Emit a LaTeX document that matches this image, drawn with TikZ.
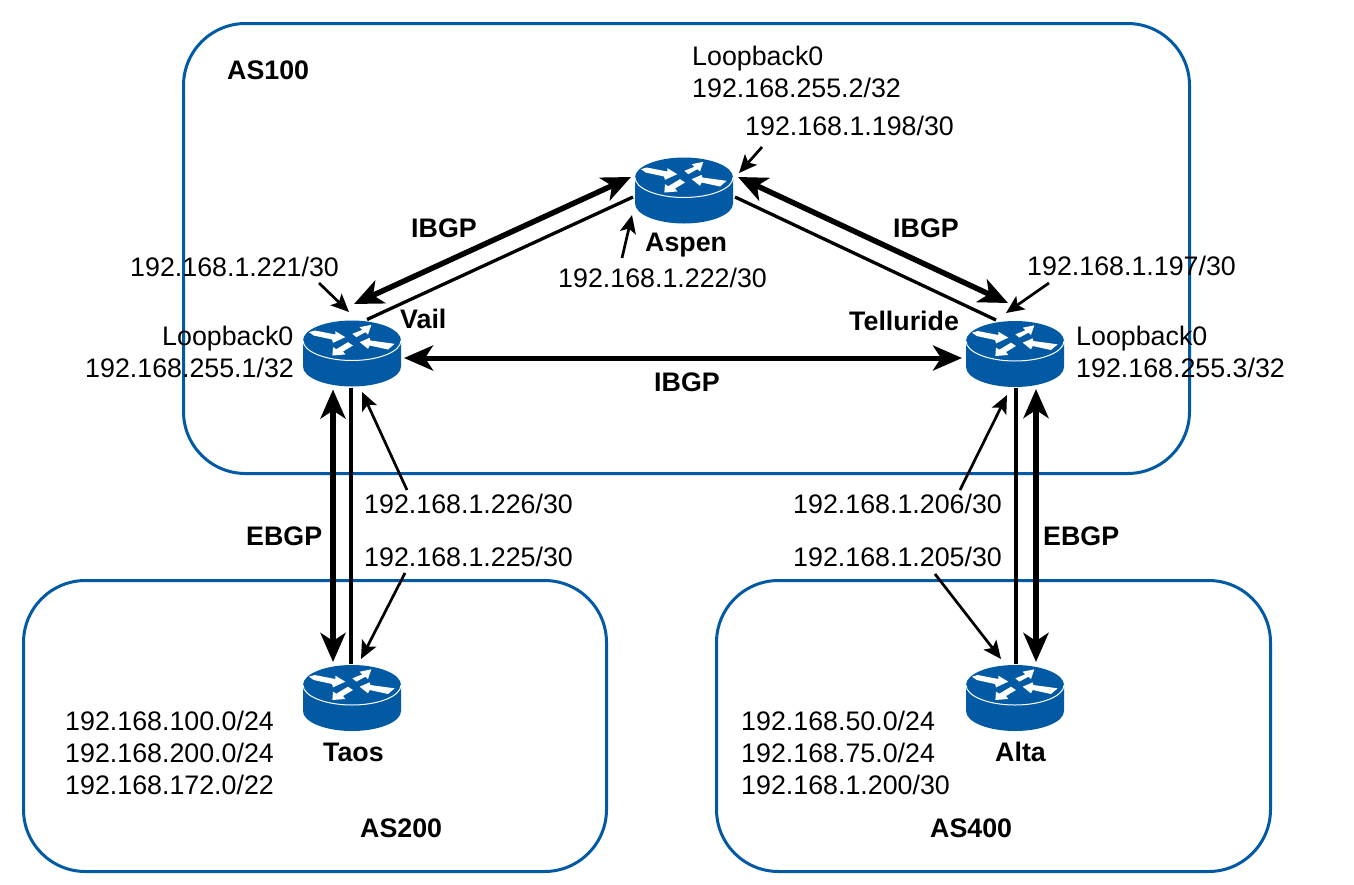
\documentclass[tikz,border=0pt]{standalone}
\usepackage{fontspec}
\setmainfont{Liberation Sans}
\usetikzlibrary{arrows.meta}
\definecolor{ciscoblue}{RGB}{2,90,165}
\tikzset{
  lbl/.style={inner sep=0pt,anchor=south west,text height=19.5pt,text depth=0pt,font=\fontsize{26.8}{30}\selectfont},
  blbl/.style={lbl,font=\fontsize{26.8}{30}\selectfont\bfseries},
  asframe/.style={draw=ciscoblue,line width=3pt,rounded corners=62pt},
  routernode/.style={inner sep=0pt,minimum width=99pt,minimum height=66pt,rectangle},
  link/.style={line width=3.3pt},
  bgp/.style={line width=5.5pt,{Stealth[length=29pt,width=25pt,inset=8pt]}-{Stealth[length=29pt,width=25pt,inset=8pt]}},
  bgpflat/.style={line width=5pt,{Stealth[length=29pt,width=25pt,inset=8pt]}-{Stealth[length=29pt,width=25pt,inset=8pt]}},
  leader/.style={line width=2.7pt,-{Stealth[length=18pt,width=16pt,inset=4pt]}},
}
\newcommand{\routerat}[3]{%
  \node[routernode] (#1) at (#2,#3) {};
  \begin{scope}[shift={(#2,#3)}]
    \fill[ciscoblue] (-49,-13) .. controls (-49,-24) and (-27,-33) .. (0,-33)
      .. controls (27,-33) and (49,-24) .. (49,-13) -- (49,13)
      .. controls (49,24) and (27,33) .. (0,33)
      .. controls (-27,33) and (-49,24) .. (-49,13) -- cycle;
    \draw[white,line width=1pt] (-49,-13) .. controls (-49,-2) and (-27,7) .. (0,7)
      .. controls (27,7) and (49,-2) .. (49,-13);
    \begin{scope}[shift={(0,-13)},scale=0.3333,white]
      \fill (-129,-25) -- (-112,-30) -- (-50,-18) -- (-50,-28) -- (-20,-10) -- (-57,7) -- (-60,-3) -- (-115,-15) -- cycle;
      \fill (58,-47) -- (48,-18) -- (40,-25) -- (13,-10) -- (1,-20) -- (31,-32) -- (23,-40) -- cycle;
      \fill (23,5) -- (53,-8) -- (55,0) -- (128,10) -- (108,27) -- (53,15) -- (48,25) -- cycle;
      \fill (-59,45) -- (-57,20) -- (-47,26) -- (-12,5) -- (3,15) -- (-27,33) -- (-20,42) -- cycle;
    \end{scope}
  \end{scope}}
\begin{document}
\begin{tikzpicture}[x=1pt,y=-1pt]
\useasboundingbox (0,0) rectangle (1354,884);
\fill[white] (0,0) rectangle (1354,884);
% AS frames
\node[asframe,minimum width=1006pt,minimum height=450pt,anchor=north west,inner sep=0pt] (as100) at (182,22) {};
\node[asframe,minimum width=583pt,minimum height=291pt,anchor=north west,inner sep=0pt] (as200) at (22,579) {};
\node[asframe,minimum width=554pt,minimum height=291pt,anchor=north west,inner sep=0pt] (as400) at (715,579) {};
% routers
\routerat{vail}{352}{353.5}
\routerat{aspen}{684}{190.5}
\routerat{telluride}{1015}{354}
\routerat{taos}{352}{698}
\routerat{alta}{1015}{698}
% labels
\node[blbl] (las100) at (227,80) {AS100};
\node[blbl] (las200) at (360,838) {AS200};
\node[blbl] (las400) at (930,838) {AS400};
\node[lbl] (loa) at (692,66) {Loopback0};
\node[lbl] (loaip) at (692,98) {192.168.255.2/32};
\node[lbl] (lov) at (162,346) {Loopback0};
\node[lbl] (lovip) at (85,378) {192.168.255.1/32};
\node[lbl] (lot) at (1076,346) {Loopback0};
\node[lbl] (lotip) at (1076,378) {192.168.255.3/32};
\node[lbl] (a198) at (745,136) {192.168.1.198/30};
\node[lbl] (a222) at (558,288) {192.168.1.222/30};
\node[lbl] (a221) at (130,277) {192.168.1.221/30};
\node[lbl] (a197) at (1027,276) {192.168.1.197/30};
\node[lbl] (a226) at (364,514) {192.168.1.226/30};
\node[lbl] (a225) at (364,567) {192.168.1.225/30};
\node[lbl] (a206) at (793,514) {192.168.1.206/30};
\node[lbl] (a205) at (793,567) {192.168.1.205/30};
\node[blbl] (nasp) at (645,252) {Aspen};
\node[blbl] (nvail) at (400,329) {Vail};
\node[blbl] (ntel) at (849,331) {Telluride};
\node[blbl] (ntaos) at (323,762) {Taos};
\node[blbl] (nalta) at (995,762) {Alta};
\node[blbl] (ib1) at (411,238) {IBGP};
\node[blbl] (ib2) at (893,238) {IBGP};
\node[blbl] (ib3) at (654,392) {IBGP};
\node[blbl] (eb1) at (246,546) {EBGP};
\node[blbl] (eb2) at (1043,546) {EBGP};
\node[lbl] (n1) at (65,731) {192.168.100.0/24};
\node[lbl] (n2) at (65,763) {192.168.200.0/24};
\node[lbl] (n3) at (65,795) {192.168.172.0/22};
\node[lbl] (n4) at (741,731) {192.168.50.0/24};
\node[lbl] (n5) at (741,763) {192.168.75.0/24};
\node[lbl] (n6) at (741,795) {192.168.1.200/30};
% physical links
\draw[link] ([shift={(15,-34)}]vail.center) -- ([shift={(-51,6.5)}]aspen.center);
\draw[link] ([shift={(51,6.5)}]aspen.center) -- ([shift={(-19,-34)}]telluride.center);
\draw[link] ([shift={(-1,34)}]vail.center) -- ([shift={(-1,-34)}]taos.center);
\draw[link] ([shift={(1,34)}]telluride.center) -- ([shift={(1,-34)}]alta.center);
% BGP sessions
\draw[bgp] ([shift={(2,-49.5)}]vail.center) -- ([shift={(-53,-13.5)}]aspen.center);
\draw[bgp] ([shift={(54,-13.5)}]aspen.center) -- ([shift={(-7,-51)}]telluride.center);
\draw[bgpflat] ([shift={(52,4.5)}]vail.center) -- ([shift={(-53,4)}]telluride.center);
\draw[bgp] ([shift={(-19,36)}]vail.center) -- ([shift={(-19,-36)}]taos.center);
\draw[bgp] ([shift={(21,35)}]telluride.center) -- ([shift={(21,-36)}]alta.center);
% leaders
\draw[leader] ([shift={(189,6)}]a221.south west) -- ([shift={(-3,-41.5)}]vail.center);
\draw[leader] ([shift={(17,11)}]a198.south west) -- ([shift={(55,-17.5)}]aspen.center);
\draw[leader] ([shift={(64,-30)}]a222.south west) -- ([shift={(-52,24.5)}]aspen.center);
\draw[leader] ([shift={(22,7)}]a197.south west) -- ([shift={(-9,-41)}]telluride.center);
\draw[leader] ([shift={(43,-24)}]a226.south west) -- ([shift={(10,38.5)}]vail.center);
\draw[leader] ([shift={(41,6)}]a225.south west) -- ([shift={(9,-39)}]taos.center);
\draw[leader] ([shift={(167,-24)}]a206.south west) -- ([shift={(-8,41)}]telluride.center);
\draw[leader] ([shift={(142,7)}]a205.south west) -- ([shift={(-14,-39)}]alta.center);
\end{tikzpicture}
\end{document}
